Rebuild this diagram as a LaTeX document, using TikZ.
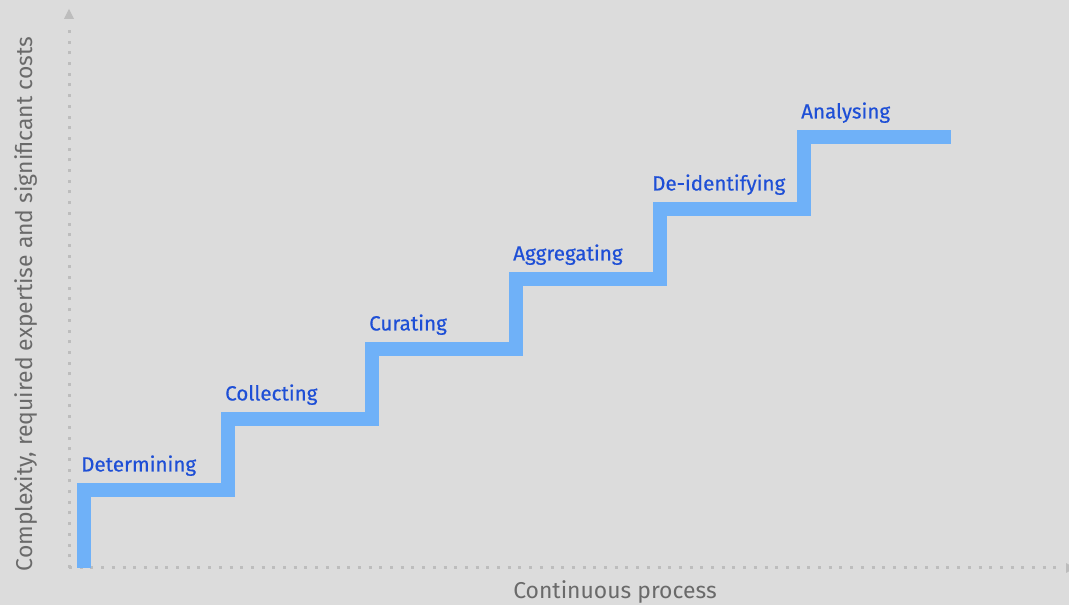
\documentclass[tikz,border=0pt]{standalone}
\usepackage{fontspec}
\setmainfont{Fira Sans}
\newfontfamily\lightf{Fira Sans}
\newfontfamily\medf{Fira Sans}[UprightFeatures={FakeBold=0.5}]
\usetikzlibrary{arrows.meta}
\definecolor{bg}{HTML}{DCDCDC}
\definecolor{axis}{HTML}{BDBDBD}
\definecolor{stair}{HTML}{6FB1F8}
\definecolor{lab}{HTML}{1E4FD6}
\definecolor{axlab}{HTML}{6A6A6A}
\tikzset{
  axisline/.style={axis, line width=3pt, dash pattern=on 3pt off 7.7pt, line cap=butt},
  stairline/.style={stair, line width=13.3pt, line join=miter, line cap=butt},
  steplabel/.style={anchor=base west, inner sep=0pt, text=lab, font=\medf\fontsize{20.6}{24}\selectfont},
  axislabel/.style={text=axlab, inner sep=0pt, font=\lightf\fontsize{22.9}{27}\selectfont}
}
\begin{document}
\begin{tikzpicture}[x=1pt,y=1pt]
\fill[bg] (0,0) rectangle (1069,605);
\useasboundingbox (0,0) rectangle (1069,605);
% axes
\coordinate (O) at (69,37);
\coordinate (Ytop) at (69,582);
\coordinate (Xend) at (1060,37);
\draw[axisline] (O) -- (Ytop);
\draw[axisline] (O) -- (Xend);
\fill[axis] (64,586) -- (74,586) -- (69,596) -- cycle;
\fill[axis] (1066,32) -- (1066,42) -- (1075,37) -- cycle;
% stairs
\draw[stairline] (84,37) -- (84,115) -- (228,115) -- (228,186) -- (372,186) -- (372,256)
  -- (516,256) -- (516,326) -- (660,326) -- (660,396) -- (804,396) -- (804,468) -- (951,468);
% labels
\node[steplabel] (l1) at (81,133.5) {Determining};
\node[steplabel] (l2) at (225,204.5) {Collecting};
\node[steplabel] (l3) at (369,274.5) {Curating};
\node[steplabel] (l4) at (513,344.5) {Aggregating};
\node[steplabel] (l5) at (652,414.5) {De-identifying};
\node[steplabel] (l6) at (801,486.5) {Analysing};
\node[axislabel, rotate=90] (yl) at (26,301) {Complexity, required expertise and significant costs};
\node[axislabel] (xl) at (615,13) {Continuous process};
\end{tikzpicture}
\end{document}
